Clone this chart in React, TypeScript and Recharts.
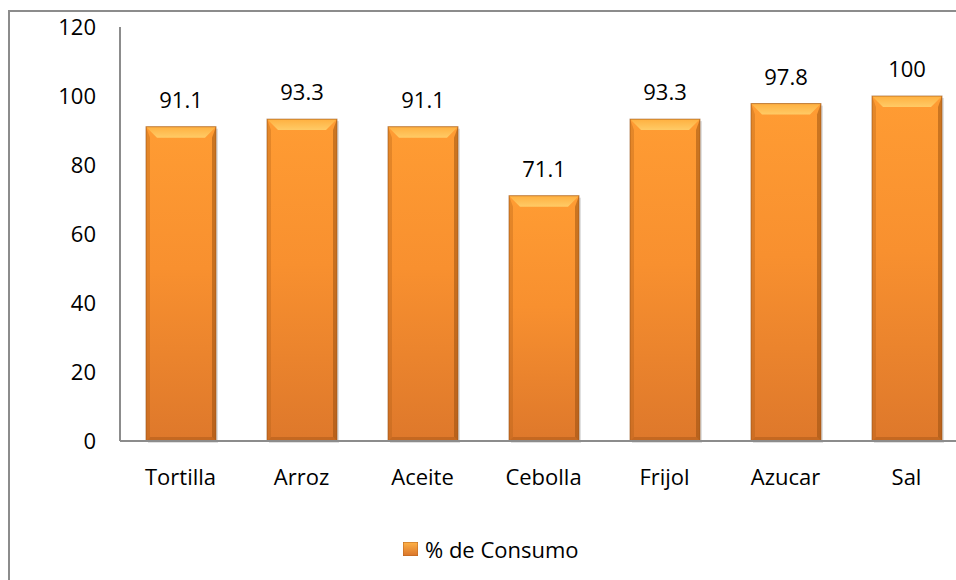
import React from "react";
import { BarChart, Bar, XAxis, YAxis, LabelList, Legend } from "recharts";

const categories = ["Tortilla", "Arroz", "Aceite", "Cebolla", "Frijol", "Azucar", "Sal"];
const consumo = [91.1, 93.3, 91.1, 71.1, 93.3, 97.8, 100];
const yTicks = [0, 20, 40, 60, 80, 100, 120];
const seriesName = "% de Consumo";

const data = categories.map((c, i) => ({ name: c, value: consumo[i] }));

const FONT = "'Open Sans', 'Noto Sans', sans-serif";
const FS = 22;

const BevelBar = (props: any) => {
  const { x, y, width, height } = props;
  if (!height || height <= 0) return null;
  const b = Math.min(11, height / 2);
  const e = 4;
  return (
    <g>
      <rect x={x + 2} y={y + 2} width={width} height={height} fill="rgba(0,0,0,0.12)" />
      <rect x={x} y={y} width={width} height={height} fill="url(#bodyGrad)" />
      <polygon
        points={`${x},${y} ${x + width},${y} ${x + width - b},${y + b} ${x + b},${y + b}`}
        fill="url(#topGrad)"
      />
      <polygon
        points={`${x},${y} ${x + e},${y + b} ${x + e},${y + height - e} ${x},${y + height}`}
        fill="rgba(170,90,20,0.3)"
      />
      <polygon
        points={`${x + width},${y} ${x + width - e},${y + b} ${x + width - e},${y + height - e} ${x + width},${y + height}`}
        fill="rgba(140,70,10,0.45)"
      />
      <polygon
        points={`${x},${y + height} ${x + e},${y + height - e} ${x + width - e},${y + height - e} ${x + width},${y + height}`}
        fill="rgba(150,75,15,0.35)"
      />
      <rect x={x} y={y} width={width} height={height} fill="none" stroke="rgba(150,80,20,0.6)" strokeWidth={1} />
    </g>
  );
};

const renderLegend = () => (
  <div
    style={{
      display: "flex",
      alignItems: "center",
      justifyContent: "flex-start",
      fontFamily: FONT,
      fontSize: FS,
      color: "#000",
      paddingLeft: 403,
      height: 26,
    }}
  >
    <svg width={15} height={14} style={{ marginRight: 7 }}>
      <defs>
        <linearGradient id="legGrad" x1="0" y1="0" x2="0" y2="1">
          <stop offset="0%" stopColor="#FFB347" />
          <stop offset="100%" stopColor="#D9742A" />
        </linearGradient>
      </defs>
      <rect x={0} y={0} width={15} height={14} fill="url(#legGrad)" stroke="#B8651F" strokeWidth={1} />
    </svg>
    <span>{seriesName}</span>
  </div>
);

export default function App() {
  return (
    <div
      style={{
        position: "absolute",
        left: 0,
        top: 0,
        width: 956,
        height: 580,
        overflow: "hidden",
        background: "#fff",
      }}
    >
      <div
        style={{
          position: "absolute",
          left: 8,
          top: 10,
          width: 1000,
          height: 620,
          border: "2px solid #8c8c8c",
        }}
      />
      <div style={{ position: "absolute", left: 0, top: 0 }}>
        <BarChart
          width={975}
          height={580}
          data={data}
          margin={{ top: 27, right: 8, left: 0, bottom: 0 }}
          barSize={70}
        >
          <defs>
            <linearGradient id="bodyGrad" x1="0" y1="0" x2="0" y2="1">
              <stop offset="0%" stopColor="#FF9C33" />
              <stop offset="45%" stopColor="#F8902F" />
              <stop offset="100%" stopColor="#DE782B" />
            </linearGradient>
            <linearGradient id="topGrad" x1="0" y1="0" x2="0" y2="1">
              <stop offset="0%" stopColor="#FFB040" />
              <stop offset="100%" stopColor="#FFCB66" />
            </linearGradient>
          </defs>
          <XAxis
            dataKey="name"
            axisLine={{ stroke: "#8c8c8c", strokeWidth: 2 }}
            tickLine={false}
            tickSize={0}
            tickMargin={28}
            height={113}
            interval={0}
            tick={{ fill: "#000", fontSize: FS, fontFamily: FONT }}
          />
          <YAxis
            domain={[0, 120]}
            ticks={yTicks}
            width={120}
            axisLine={{ stroke: "#8c8c8c", strokeWidth: 2 }}
            tickLine={false}
            tickSize={0}
            tickMargin={24}
            interval={0}
            tick={{ fill: "#000", fontSize: FS, fontFamily: FONT }}
          />
          <Legend verticalAlign="bottom" content={renderLegend} height={26} wrapperStyle={{ bottom: 18 }} />
          <Bar dataKey="value" name={seriesName} shape={<BevelBar />} isAnimationActive={false}>
            <LabelList
              dataKey="value"
              position="top"
              offset={19}
              style={{ fill: "#000", fontSize: FS, fontFamily: FONT }}
            />
          </Bar>
        </BarChart>
      </div>
    </div>
  );
}
